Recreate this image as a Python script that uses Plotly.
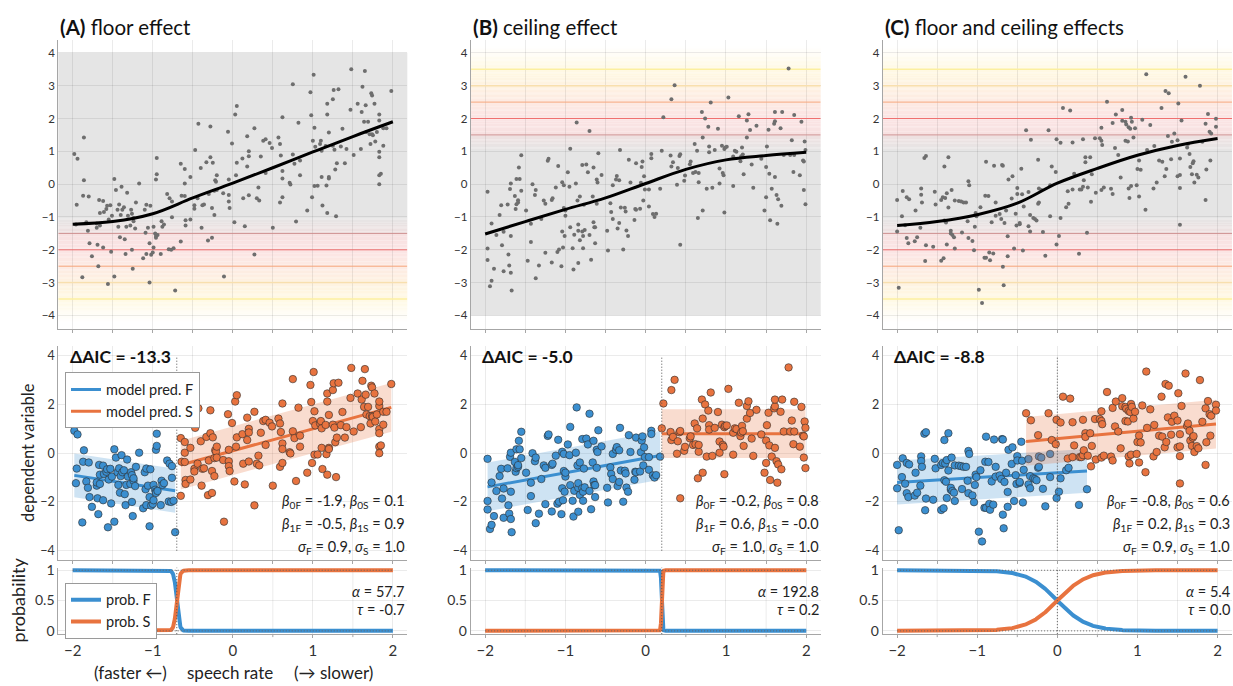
import numpy as np
import plotly.graph_objects as go
from plotly.subplots import make_subplots

FONT = "Lato"
TXT = "#262626"
BLUE = "#3b8fd0"
ORANGE = "#e8733f"
GRID = "rgba(0,0,0,0.08)"
AXLINE = "#a6a6a6"

# ---------------------------------------------------------------- data
# simulated observations (speech rate, dependent variable) for each scenario
floor_pts = [
    (-1.98, 0.92), (-1.95, -0.63), (-1.94, 0.77), (-1.96, -1.23), (-1.86, 1.42), (-1.86, 0.12), (-1.87, -0.35),
    (-1.88, -2.84), (-1.83, -1.16), (-1.81, -1.42), (-1.80, -0.38), (-1.79, -1.80), (-1.76, -2.20), (-1.70, -1.33),
    (-1.70, -1.20), (-1.69, -1.85), (-1.68, -2.50), (-1.67, -0.48), (-1.66, -0.88), (-1.66, -1.26), (-1.62, -0.51),
    (-1.62, -1.93), (-1.61, -0.85), (-1.58, -0.76), (-1.57, -0.66), (-1.56, -3.04), (-1.55, -1.08), (-1.53, -0.64),
    (-1.52, -2.06), (-1.51, -0.96), (-1.48, 0.16), (-1.48, -2.81), (-1.46, -0.18), (-1.44, -0.78), (-1.43, -1.30),
    (-1.42, -0.62), (-1.41, -1.62), (-1.40, -0.94), (-1.39, -0.08), (-1.38, -0.78), (-1.36, -0.70), (-1.35, -1.68),
    (-1.34, -2.13), (-1.33, -1.30), (-1.32, -0.26), (-1.31, -0.96), (-1.28, -1.26), (-1.27, -0.78), (-1.26, -0.90),
    (-1.26, -2.00), (-1.25, -2.58), (-1.24, -1.13), (-1.24, -1.03), (-1.22, -1.35), (-1.21, -0.56), (-1.17, 0.02),
    (-1.12, -2.26), (-1.10, -0.78), (-1.09, -1.48), (-1.08, -0.63), (-1.08, -2.13), (-1.06, -1.33), (-1.04, -1.80),
    (-1.04, -3.00), (-1.03, -0.66), (-1.02, -2.15), (-1.00, -2.08), (-0.99, -1.93), (-0.99, -1.30), (-0.97, -1.50),
    (-0.96, -1.58), (-0.96, 0.14), (-0.96, -1.63), (-0.95, 0.30), (-0.95, 0.80), (-0.94, -1.55), (-0.90, -2.13),
    (-0.89, -1.13), (-0.88, -1.30), (-0.86, -1.23), (-0.82, -0.30), (-0.80, -1.98), (-0.79, -0.43), (-0.77, -2.00),
    (-0.76, -1.01), (-0.76, -0.53), (-0.74, -1.95), (-0.72, -3.24),
    (-0.65, 0.62), (-0.65, -1.75), (-0.64, -0.35), (-0.60, 0.46), (-0.60, 0.02), (-0.60, -0.36), (-0.59, -1.10),
    (-0.59, -1.26), (-0.53, 0.22), (-0.53, -1.08), (-0.48, -0.64), (-0.48, -0.75), (-0.47, 1.04), (-0.44, -0.43),
    (-0.43, 1.84), (-0.40, 0.49), (-0.39, -1.33), (-0.38, -0.64), (-0.36, -0.62), (-0.33, 0.67), (-0.31, -1.72),
    (-0.30, -0.30), (-0.28, 1.76), (-0.28, 0.82), (-0.26, -0.73), (-0.26, -1.63), (-0.25, 0.65), (-0.23, -0.20),
    (-0.23, -0.94), (-0.22, 0.12), (-0.21, 0.07), (-0.20, 0.27), (-0.20, -0.18), (-0.12, -0.28), (-0.11, -2.81),
    (-0.06, 1.60), (-0.05, 0.14), (-0.05, -0.33), (-0.05, -0.53), (-0.04, -0.73), (-0.01, 1.24), (0.02, -1.16),
    (0.03, 2.12), (0.05, 2.38), (0.04, 0.27), (0.05, 0.65), (0.12, 0.78), (0.13, -0.43), (0.15, -1.28), (0.18, 1.46),
    (0.18, 0.54), (0.20, 1.00), (0.20, 0.85), (0.20, -0.34), (0.27, 1.70), (0.27, -2.14), (0.30, -0.43),
    (0.32, -0.10), (0.33, -0.50), (0.35, 0.84), (0.38, 1.32), (0.41, 1.37), (0.41, 0.34), (0.46, 1.25), (0.49, 1.10),
    (0.50, -1.33), (0.57, 1.42), (0.59, 1.22), (0.59, -0.56), (0.60, 0.87), (0.62, 2.04), (0.62, 0.40), (0.62, 0.17),
    (0.62, -0.40), (0.71, 0.04), (0.72, -0.01), (0.75, 3.04), (0.75, 0.90), (0.77, 0.62), (0.79, -1.14), (0.82, 1.87),
    (0.84, 0.72), (0.84, 0.27), (0.93, -0.80), (0.97, 2.80), (0.98, 2.10), (0.99, -0.40), (1.00, 1.32), (1.01, 3.33),
    (1.02, -0.06), (1.02, 1.72), (1.03, 1.14), (1.06, -0.05), (1.09, 1.22), (1.10, 1.32), (1.11, 1.02), (1.11, 0.22),
    (1.12, -0.65), (1.16, 1.16), (1.17, -0.04), (1.18, 2.12), (1.18, 2.45), (1.18, -0.88), (1.20, 1.57), (1.20, 0.22),
    (1.20, 0.17), (1.25, 2.59), (1.25, 1.17), (1.26, 2.87), (1.27, 1.05), (1.28, 0.45), (1.29, -0.98), (1.30, 0.64),
    (1.32, 2.89), (1.35, 1.15), (1.37, 1.69), (1.40, 0.64), (1.42, 1.07), (1.47, 2.27), (1.48, 3.50), (1.51, 0.89),
    (1.56, 2.45), (1.60, 1.07), (1.61, 2.20), (1.62, 2.97), (1.64, 1.90), (1.65, 3.45), (1.66, 2.40), (1.67, 1.59),
    (1.69, 1.90), (1.71, 1.52), (1.72, 1.22), (1.73, 2.77), (1.74, 2.70), (1.74, 1.52), (1.75, 1.49), (1.77, 2.45),
    (1.78, 1.30), (1.80, 1.59), (1.83, 1.94), (1.83, 2.12), (1.83, 0.99), (1.83, 0.82), (1.83, 0.27), (1.85, 0.32),
    (1.83, 0.00), (1.88, 1.17), (1.88, 1.70), (1.92, 1.70), (1.98, 2.84),
]

ceiling_pts = [
    (-1.97, -0.23), (-1.97, -1.96), (-1.97, -2.31), (-1.94, -3.11), (-1.92, -2.94), (-1.92, -1.20), (-1.89, -2.58),
    (-1.86, -1.55), (-1.82, -0.94), (-1.80, -0.64), (-1.79, -1.86), (-1.77, -1.45), (-1.77, -2.65), (-1.72, -0.62),
    (-1.71, -2.14), (-1.70, -2.48), (-1.69, -0.15), (-1.68, -2.70), (-1.68, -1.58), (-1.68, 0.02), (-1.67, -3.24),
    (-1.63, -0.36), (-1.62, -0.76), (-1.61, -0.61), (-1.61, 0.16), (-1.59, -0.56), (-1.59, -0.49), (-1.58, 0.51),
    (-1.57, 0.16), (-1.55, 0.88), (-1.55, -0.20), (-1.49, -0.80), (-1.47, -2.33), (-1.43, -1.21), (-1.43, -1.76),
    (-1.41, 0.00), (-1.38, -0.33), (-1.37, -0.18), (-1.37, -2.87), (-1.33, -2.48), (-1.30, -1.06), (-1.27, -0.50),
    (-1.25, -0.60), (-1.25, -2.09), (-1.22, 0.71), (-1.21, 0.77), (-1.17, -0.48), (-1.16, -0.43), (-1.17, -2.39),
    (-1.12, -0.10), (-1.10, -2.07), (-1.09, 0.55), (-1.08, -1.99), (-1.05, -2.50), (-1.04, 0.06), (-1.04, -1.44),
    (-1.03, -1.93), (-1.02, -0.03), (-1.02, -0.73), (-1.01, -1.58), (-1.00, -0.96), (-1.00, -0.80), (-0.97, 0.36),
    (-0.95, -0.08), (-0.94, 1.08), (-0.94, -1.31), (-0.91, -1.95), (-0.90, -2.60), (-0.89, -1.54), (-0.87, 0.02),
    (-0.86, 1.88), (-0.85, -0.50), (-0.84, -1.42), (-0.84, -1.23), (-0.84, -2.40), (-0.82, -0.38), (-0.82, -1.71),
    (-0.79, 0.58), (-0.79, -1.44), (-0.78, -1.58), (-0.78, -1.95), (-0.77, -0.63), (-0.76, -1.40), (-0.74, 0.60),
    (-0.72, 0.36), (-0.70, -1.55), (-0.70, 1.62), (-0.68, -2.30), (-0.66, -0.38), (-0.65, 0.51), (-0.65, -1.16),
    (-0.64, -1.31), (-0.63, -1.31), (-0.63, -1.80), (-0.61, -0.60), (-0.61, 0.14), (-0.60, 0.05), (-0.59, 0.94),
    (-0.55, 0.28), (-0.48, -1.42), (-0.47, -2.02), (-0.44, -0.58), (-0.43, -0.85), (-0.41, -0.03), (-0.41, -1.06),
    (-0.37, 0.14), (-0.36, 0.25), (-0.35, -1.35), (-0.33, 0.12), (-0.33, -1.18), (-0.32, 1.04), (-0.31, -0.71),
    (-0.28, -1.99), (-0.26, -0.72), (-0.25, -0.83), (-0.24, -1.41), (-0.22, -1.58), (-0.21, 0.74), (-0.19, 0.05),
    (-0.14, -1.09), (-0.13, -0.76), (-0.12, 0.64), (-0.12, -0.78), (-0.07, -0.75), (-0.06, 0.04), (-0.05, 0.52),
    (-0.04, 0.69), (-0.03, -0.50), (-0.02, 0.24), (-0.01, -0.16), (0.04, -0.16), (0.04, -0.68), (0.07, 0.92),
    (0.07, 0.79), (0.09, -0.91), (0.11, -1.00), (0.13, -0.90), (0.18, -0.14),
    (0.20, 1.02), (0.22, 2.04), (0.31, 0.87), (0.32, 0.54), (0.32, 2.59), (0.34, 0.67), (0.36, 3.01), (0.39, -0.02),
    (0.40, 0.49), (0.42, 0.86), (0.43, 0.91), (0.43, -1.85), (0.48, 0.10), (0.49, 0.26), (0.55, 0.61), (0.56, 0.69),
    (0.59, 0.34), (0.61, 1.22), (0.62, 0.37), (0.64, 1.02), (0.65, -1.03), (0.66, 0.06), (0.66, 0.34), (0.70, 2.20),
    (0.71, -0.80), (0.71, 1.42), (0.74, 2.00), (0.76, -0.14), (0.78, 1.75), (0.79, 1.15), (0.79, 0.97), (0.81, 2.49),
    (0.83, -0.11), (0.86, 1.04), (0.90, 1.69), (0.92, 0.48), (0.92, 0.02), (0.95, 1.17), (0.96, 0.34), (0.97, 0.27),
    (0.98, 1.07), (0.98, -0.86), (0.99, 1.12), (1.01, 1.14), (1.03, 2.64), (1.09, -0.06), (1.09, 0.84), (1.11, 1.02),
    (1.13, 0.99), (1.16, 2.07), (1.18, 0.70), (1.19, 0.85), (1.20, 1.12), (1.21, 0.90), (1.22, 0.30), (1.26, 1.94),
    (1.26, 1.42), (1.28, 2.13), (1.30, 1.65), (1.32, 0.60), (1.34, -0.11), (1.38, 1.78), (1.44, 0.77), (1.48, -0.80),
    (1.50, -0.40), (1.50, 0.52), (1.51, 1.15), (1.53, 1.66), (1.54, 0.32), (1.55, -1.10), (1.57, -0.14), (1.60, 1.84),
    (1.61, 0.22), (1.61, 1.92), (1.61, 2.20), (1.63, -0.33), (1.64, -1.21), (1.65, -0.46), (1.68, 1.70), (1.69, -0.66),
    (1.70, 2.20), (1.72, 0.89), (1.78, 3.52), (1.80, 0.89), (1.82, 1.34), (1.84, 0.37), (1.85, 2.11), (1.85, 0.89),
    (1.92, 0.27), (1.94, 1.90), (1.96, 0.72), (1.97, -0.18), (1.97, 0.69), (1.98, 1.30), (1.99, 1.04), (1.99, -0.61),
]

both_pts = [
    (-2.00, -0.48), (-2.00, -1.44), (-1.98, -3.16), (-1.94, -0.98), (-1.93, -0.21), (-1.90, -1.25), (-1.88, -0.40),
    (-1.88, -1.64), (-1.86, -1.80), (-1.85, -0.46), (-1.78, -1.74), (-1.77, -0.80), (-1.75, -1.62), (-1.71, -1.33),
    (-1.70, -0.13), (-1.70, -0.32), (-1.69, -0.56), (-1.66, 0.80), (-1.65, -2.34), (-1.64, -1.86), (-1.64, 0.86),
    (-1.55, -1.91), (-1.53, -0.23), (-1.52, -0.62), (-1.45, -2.33), (-1.45, -0.48), (-1.43, -0.40), (-1.42, -2.26),
    (-1.41, -1.11), (-1.41, 0.54), (-1.40, -0.42), (-1.39, -1.17), (-1.38, -0.28), (-1.38, -1.84), (-1.36, -0.71),
    (-1.36, 0.82), (-1.33, -1.50), (-1.33, -1.42), (-1.32, -0.18), (-1.31, -1.55), (-1.29, -1.62), (-1.28, -0.50),
    (-1.28, -1.96), (-1.23, -0.51), (-1.20, -0.53), (-1.19, -1.47), (-1.17, -0.56), (-1.14, -0.56), (-1.12, -1.13),
    (-1.11, -1.64), (-1.11, 0.09), (-1.10, -0.03), (-1.06, -1.73), (-1.04, -2.01), (-1.03, -1.30), (-1.02, -0.88),
    (-1.01, -0.98), (-0.98, -3.22), (-0.96, -0.70), (-0.94, -3.62), (-0.91, -2.24), (-0.89, -2.24), (-0.90, -0.35),
    (-0.89, 0.68), (-0.86, -0.36), (-0.85, -2.08), (-0.84, -2.32), (-0.82, -1.16), (-0.80, -2.11), (-0.79, 0.56),
    (-0.77, -0.96), (-0.77, -0.56), (-0.72, -0.91), (-0.70, -1.06), (-0.69, 0.58), (-0.68, 0.56), (-0.68, -2.52),
    (-0.67, -3.08), (-0.66, -1.18), (-0.64, -0.80), (-0.62, -1.59), (-0.62, -2.20), (-0.61, 0.14), (-0.57, -0.44),
    (-0.56, 0.24), (-0.54, -1.96), (-0.52, -0.90), (-0.51, -1.26), (-0.50, -0.12), (-0.50, -0.30), (-0.47, -1.22),
    (-0.47, -1.18), (-0.45, 0.47), (-0.44, -0.31), (-0.43, -2.02), (-0.42, -0.68), (-0.39, 1.64), (-0.36, -0.24),
    (-0.36, -1.28), (-0.34, -1.44), (-0.34, -0.94), (-0.33, 1.35), (-0.30, -1.03), (-0.28, -1.06), (-0.26, -1.11),
    (-0.24, 0.74), (-0.24, -0.60), (-0.23, -0.56), (-0.23, -0.13), (-0.20, -0.18), (-0.18, -1.46), (-0.15, -2.18),
    (-0.11, 1.64), (-0.09, -0.98), (-0.09, -0.03), (-0.07, 0.54), (-0.02, 0.37), (-0.01, 1.37), (-0.01, -1.84),
    (0.02, -1.58), (0.04, 1.26), (0.04, -1.03), (0.07, 2.32), (0.11, -0.70), (0.14, -0.60), (0.13, -0.22),
    (0.16, 2.24), (0.19, 1.27), (0.19, -0.16), (0.21, 0.32), (0.27, -2.12), (0.28, -0.16), (0.30, -0.16),
    (0.32, 1.37), (0.32, -0.08), (0.33, 0.12), (0.35, 0.82), (0.35, 0.67), (0.37, -1.48), (0.38, -0.10), (0.41, 0.82),
    (0.42, -0.54), (0.43, 0.30), (0.47, 1.40), (0.48, -0.26), (0.53, 1.40), (0.55, -0.18), (0.55, 1.72), (0.55, 1.32),
    (0.56, 1.19), (0.58, -0.10), (0.62, 2.51), (0.67, -0.14), (0.69, 1.86), (0.69, -0.30), (0.72, 1.10), (0.73, 2.12),
    (0.76, 0.89), (0.79, 0.20), (0.81, 2.26), (0.81, 1.93), (0.85, 1.32), (0.85, 1.90), (0.86, 1.82), (0.88, 1.30),
    (0.89, -0.13), (0.89, 1.73), (0.90, -0.42), (0.91, 1.69), (0.92, -0.06), (0.92, 2.02), (0.93, 1.90), (0.95, 1.42),
    (0.97, 1.70), (0.99, -0.03), (1.00, 0.46), (1.02, 0.72), (1.02, -0.38), (1.04, 0.44), (1.06, 1.96), (1.10, -0.78),
    (1.11, 3.35), (1.12, 1.04), (1.16, 1.80), (1.20, -0.13), (1.21, 1.16), (1.24, 0.05), (1.27, 0.72), (1.31, 0.68),
    (1.30, 2.32), (1.34, 0.24), (1.35, 2.84), (1.36, 0.46), (1.39, 2.77), (1.38, 1.47), (1.42, 0.76), (1.43, 1.29),
    (1.46, 1.54), (1.50, 1.34), (1.50, 0.24), (1.51, 2.46), (1.53, 0.28), (1.53, -1.24), (1.53, 0.78), (1.53, -0.12),
    (1.55, 1.94), (1.60, 3.27), (1.62, 1.12), (1.63, 1.22), (1.65, 0.92), (1.66, 0.52), (1.68, 0.30), (1.69, 0.64),
    (1.70, 0.70), (1.71, 0.05), (1.74, 0.29), (1.76, 0.20), (1.78, 3.00), (1.81, 1.29), (1.85, 1.84), (1.85, -0.48),
    (1.86, 0.45), (1.88, 2.14), (1.90, 1.60), (1.91, 0.72), (1.92, 1.54), (1.98, 1.99), (1.98, 1.75),
]

# underlying (true) mean function sampled along speech rate
curve_x = [-2.0, -1.5, -1.0, -0.5, 0.0, 0.5, 1.0, 1.5, 2.0]
floor_curve = [-1.22, -1.14, -0.90, -0.42, 0.03, 0.50, 0.98, 1.45, 1.90]
ceiling_curve = [-1.52, -1.14, -0.77, -0.42, 0.02, 0.45, 0.74, 0.87, 0.97]
both_curve = [-1.26, -1.14, -0.93, -0.58, 0.03, 0.48, 0.88, 1.18, 1.39]

# fitted switching-regression parameters: beta0F, beta0S, beta1F, beta1S, sigmaF, sigmaS
floor_fit = [-1.9, 0.1, -0.5, 0.9, 0.9, 1.0]
ceiling_fit = [-0.2, 0.8, 0.6, -0.0, 1.0, 1.0]
both_fit = [-0.8, 0.6, 0.2, 0.3, 0.9, 1.0]
# logistic switch: alpha (steepness), tau (location)
floor_switch = [57.7, -0.7]
ceiling_switch = [192.8, 0.2]
both_switch = [5.4, 0.0]
delta_aic = [-13.3, -5.0, -8.8]

titles = ["<b>(A)</b> floor effect", "<b>(B)</b> ceiling effect", "<b>(C)</b> floor and ceiling effects"]
# which measurement limits apply: -1 = floor, +1 = ceiling
limit_sides = [(-1,), (1,), (-1, 1)]
limit_levels = [1.5, 2.0, 2.5, 3.0, 3.5]
limit_colors = ["#cf8f8f", "#ef6f6f", "#f6a57a", "#f8dfae", "#fcef9f"]
limit_widths = [1.0, 1.0, 1.0, 1.5, 1.5]

panels = [
    (floor_pts, floor_curve, floor_fit, floor_switch),
    (ceiling_pts, ceiling_curve, ceiling_fit, ceiling_switch),
    (both_pts, both_curve, both_fit, both_switch),
]

# ---------------------------------------------------------------- layout geometry
W, H = 1233, 686
col_px = [(58.3, 407.3), (470.7, 820.7), (882.7, 1232.0)]
row_px = [(33.3, 327.3), (345.0, 563.3), (570.7, 638.3)]
XR = [-2.18, 2.18]
YR = [[-4.4, 4.4], [-4.4, 4.4], [-0.054, 1.042]]
half_ticks = [-2, -1.5, -1, -0.5, 0, 0.5, 1, 1.5, 2]

fig = make_subplots(rows=3, cols=3)


def ax(r, c):
    return 3 * r + c + 1


def axname(kind, n):
    return kind if n == 1 else f"{kind}{n}"


# gradient shading of the clipped zones (top row)
zone_stops = [(-0.5, (229, 229, 229)), (0.0, (239, 224, 224)), (0.03, (247, 225, 225)), (0.5, (251, 228, 228)),
              (1.0, (253, 234, 227)), (1.5, (254, 242, 225)), (2.0, (255, 249, 227)), (2.7, (255, 255, 255))]
zone_d = np.array([s[0] for s in zone_stops])
zone_rgb = np.array([s[1] for s in zone_stops], dtype=float)


def zone_color(d):
    return tuple(int(round(np.interp(d, zone_d, zone_rgb[:, k]))) for k in range(3))


shapes = []
for c, sides in enumerate(limit_sides):
    n = ax(0, c)
    lo = -4.4 if -1 in sides else -4.0
    hi = 4.4 if 1 in sides else 4.0
    edges = np.round(np.arange(lo, hi + 1e-9, 0.04), 4)
    bands = []
    for y0, y1 in zip(edges[:-1], edges[1:]):
        ym = 0.5 * (y0 + y1)
        d = max(s * ym - limit_levels[0] for s in sides)
        col = zone_color(d)
        if bands and bands[-1][2] == col:
            bands[-1][1] = y1
        else:
            bands.append([y0, y1, col])
    for y0, y1, col in bands:
        shapes.append(dict(type="rect", xref=f"{axname('x', n)} domain", yref=axname("y", n),
                           x0=0, x1=1, y0=y0, y1=y1, fillcolor="rgb(%d,%d,%d)" % col,
                           line=dict(width=0), layer="below"))

DOT = "1px,2px"
for c, (pts, curve, fit, switch) in enumerate(panels):
    xs = np.array([p[0] for p in pts])
    ys = np.array([p[1] for p in pts])
    b0f, b0s, b1f, b1s, sf, ss = fit
    alpha, tau = switch

    # ---- top row: raw observations and the true mean function
    for s in limit_sides[c]:
        for lvl, lc, lw in zip(limit_levels, limit_colors, limit_widths):
            fig.add_trace(go.Scatter(x=XR, y=[s * lvl, s * lvl], mode="lines", line=dict(color=lc, width=lw),
                                     hoverinfo="skip", showlegend=False), row=1, col=c + 1)
    fig.add_trace(go.Scatter(x=xs, y=ys, mode="markers", marker=dict(size=4, color="#6e6e6e"),
                             hoverinfo="skip", showlegend=False), row=1, col=c + 1)
    fig.add_trace(go.Scatter(x=curve_x, y=curve, mode="lines", line=dict(color="black", width=3, shape="spline"),
                             hoverinfo="skip", showlegend=False), row=1, col=c + 1)

    # ---- middle row: regime assignment from the fitted model
    p_s = 1.0 / (1.0 + np.exp(-alpha * (xs - tau)))
    like_f = (1 - p_s) * np.exp(-0.5 * ((ys - (b0f + b1f * xs)) / sf) ** 2) / sf
    like_s = p_s * np.exp(-0.5 * ((ys - (b0s + b1s * xs)) / ss) ** 2) / ss
    is_f = like_f >= like_s

    for name, mask, b0, b1, sd, colr, fill in [
        ("model pred. F", is_f, b0f, b1f, sf, BLUE, "rgba(59,143,208,0.25)"),
        ("model pred. S", ~is_f, b0s, b1s, ss, ORANGE, "rgba(232,115,63,0.25)"),
    ]:
        gx = np.array([xs[mask].min(), xs[mask].max()])
        gy = b0 + b1 * gx
        fig.add_trace(go.Scatter(x=[gx[0], gx[1], gx[1], gx[0], gx[0]],
                                 y=[gy[0] + sd, gy[1] + sd, gy[1] - sd, gy[0] - sd, gy[0] + sd],
                                 mode="lines", fill="toself", fillcolor=fill, line=dict(width=0),
                                 hoverinfo="skip", showlegend=False), row=2, col=c + 1)
        fig.add_trace(go.Scatter(x=gx, y=gy, mode="lines", line=dict(color=colr, width=3), name=name,
                                 legend="legend", showlegend=(c == 0), hoverinfo="skip"), row=2, col=c + 1)
        fig.add_trace(go.Scatter(x=xs[mask], y=ys[mask], mode="markers",
                                 marker=dict(size=7.5, color=colr, line=dict(color="#2b2b2b", width=0.6)),
                                 hoverinfo="skip", showlegend=False), row=2, col=c + 1)

    # ---- bottom row: switching probabilities
    gx = np.linspace(-2, 2, 801)
    ps = 1.0 / (1.0 + np.exp(-alpha * (gx - tau)))
    fig.add_trace(go.Scatter(x=gx, y=1 - ps, mode="lines", line=dict(color=BLUE, width=4), name="prob. F",
                             legend="legend2", showlegend=(c == 0), hoverinfo="skip"), row=3, col=c + 1)
    fig.add_trace(go.Scatter(x=gx, y=ps, mode="lines", line=dict(color=ORANGE, width=4), name="prob. S",
                             legend="legend2", showlegend=(c == 0), hoverinfo="skip"), row=3, col=c + 1)

    nm, nb = ax(1, c), ax(2, c)
    shapes.append(dict(type="line", xref=axname("x", nm), yref=axname("y", nm), x0=tau, x1=tau, y0=-4, y1=4,
                       line=dict(color="#555555", width=1, dash=DOT), layer="above"))
    shapes.append(dict(type="line", xref=axname("x", nb), yref=f"{axname('y', nb)} domain", x0=tau, x1=tau,
                       y0=0, y1=1, line=dict(color="#555555", width=1, dash=DOT), layer="above"))
    for lvl in (0, 1):
        shapes.append(dict(type="line", xref=axname("x", nb), yref=axname("y", nb), x0=-2, x1=2, y0=lvl, y1=lvl,
                           line=dict(color="#666666", width=1, dash=DOT), layer="above"))
    # half-step grid lines and tick marks of the labelled bottom axis
    for hv in half_ticks[1::2]:
        shapes.append(dict(type="line", xref=axname("x", nb), yref=f"{axname('y', nb)} domain", x0=hv, x1=hv,
                           y0=0, y1=1, line=dict(color=GRID, width=1), layer="below"))
        shapes.append(dict(type="line", xref=axname("x", nb), yref=f"{axname('y', nb)} domain", x0=hv, x1=hv,
                           y0=-0.045, y1=0, line=dict(color=AXLINE, width=1), layer="above"))

# ---------------------------------------------------------------- axes
for r in range(3):
    for c in range(3):
        n = ax(r, c)
        x0p, x1p = col_px[c]
        t, b = row_px[r]
        xa = dict(domain=[x0p / W, x1p / W], range=XR, showgrid=True, gridcolor=GRID,
                  zeroline=False, showline=True, linecolor=AXLINE, linewidth=1, ticks="outside", ticklen=3,
                  tickcolor=AXLINE, tickfont=dict(size=15, color="#333333"))
        if r < 2:
            xa.update(tickvals=half_ticks, showticklabels=False)
        else:
            xa.update(tickvals=[-2, -1, 0, 1, 2], showticklabels=True)
        if r == 0:
            yv, yt, fs = [-4, -3, -2, -1, 0, 1, 2, 3, 4], None, 11.5
        elif r == 1:
            yv, yt, fs = [-4, -2, 0, 2, 4], None, 12.5
        else:
            yv, yt, fs = [0, 0.5, 1], ["0", "0.5", "1"], 14
        ya = dict(domain=[1 - b / H, 1 - t / H], range=YR[r], tickvals=yv, showgrid=True, gridcolor=GRID,
                  zeroline=False, showline=True, linecolor=AXLINE, linewidth=1, ticks="",
                  tickfont=dict(size=fs, color="#333333"))
        if yt:
            ya["ticktext"] = yt
        fig.layout[axname("xaxis", n)].update(xa)
        fig.layout[axname("yaxis", n)].update(ya)

# ---------------------------------------------------------------- text
ann = []
for c in range(3):
    x0p, x1p = col_px[c]
    ann.append(dict(text=titles[c], xref="paper", yref="paper", x=x0p / W, y=1 - 20 / H, xanchor="left",
                    yanchor="middle", showarrow=False, font=dict(size=20.5, color="#111111")))
    nm, nb = ax(1, c), ax(2, c)
    b0f, b0s, b1f, b1s, sf, ss = panels[c][2]
    alpha, tau = panels[c][3]
    ann.append(dict(text=f"<b>ΔAIC = {delta_aic[c]:.1f}</b>", xref=f"{axname('x', nm)} domain",
                    yref=f"{axname('y', nm)} domain", x=0.027, y=0.95, xanchor="left", yanchor="middle",
                    showarrow=False, font=dict(size=17.5, color="#111111")))
    lines = [
        f"<i>β</i><sub>0F</sub> = {b0f:.1f}, <i>β</i><sub>0S</sub> = {b0s:.1f}",
        f"<i>β</i><sub>1F</sub> = {b1f:.1f}, <i>β</i><sub>1S</sub> = {b1s:.1f}",
        f"<i>σ</i><sub>F</sub> = {sf:.1f}, <i>σ</i><sub>S</sub> = {ss:.1f}",
    ]
    for k, (txt, yy) in enumerate(zip(lines, [500, 523.5, 547])):
        ann.append(dict(text=txt, xref=f"{axname('x', nm)} domain", yref="paper", x=1.0, y=1 - (yy + 3) / H,
                        xanchor="right", yanchor="middle", showarrow=False, font=dict(size=14.5, color="#222222")))
    ann.append(dict(text=f"<i>α</i> = {alpha:.1f}", xref=f"{axname('x', nb)} domain", yref="paper", x=1.0,
                    y=1 - 595 / H, xanchor="right", yanchor="middle", showarrow=False,
                    font=dict(size=14.5, color="#222222")))
    ann.append(dict(text=f"<i>τ</i> = {tau:.1f}", xref=f"{axname('x', nb)} domain", yref="paper", x=1.0,
                    y=1 - 613 / H, xanchor="right", yanchor="middle", showarrow=False,
                    font=dict(size=14.5, color="#222222")))

ann.append(dict(text="dependent variable", xref="paper", yref="paper", x=28 / W, y=1 - 454 / H, textangle=-90,
                xanchor="center", yanchor="middle", showarrow=False, font=dict(size=16.5, color="#222222")))
ann.append(dict(text="probability", xref="paper", yref="paper", x=18 / W, y=1 - 604 / H, textangle=-90,
                xanchor="center", yanchor="middle", showarrow=False, font=dict(size=18, color="#222222")))
for txt, xc in [("(faster ←)", 130), ("speech rate", 230), ("(→ slower)", 333)]:
    ann.append(dict(text=txt, xref="paper", yref="paper", x=xc / W, y=1 - 677 / H, xanchor="center",
                    yanchor="middle", showarrow=False, font=dict(size=17, color="#222222")))

fig.update_layout(
    width=W, height=H, margin=dict(l=0, r=0, t=0, b=0),
    paper_bgcolor="white", plot_bgcolor="white",
    font=dict(family=FONT, color=TXT),
    shapes=shapes, annotations=ann,
    legend=dict(x=65 / W, y=1 - 372 / H, xanchor="left", yanchor="top", bgcolor="white",
                bordercolor="#9a9a9a", borderwidth=1, font=dict(size=14.5, color="#222222"),
                tracegroupgap=0, itemwidth=30),
    legend2=dict(x=65 / W, y=1 - 586 / H, xanchor="left", yanchor="top", bgcolor="white",
                 bordercolor="#9a9a9a", borderwidth=1, font=dict(size=14.5, color="#222222"),
                 tracegroupgap=0, itemwidth=30),
)

fig.write_html("out.html")
